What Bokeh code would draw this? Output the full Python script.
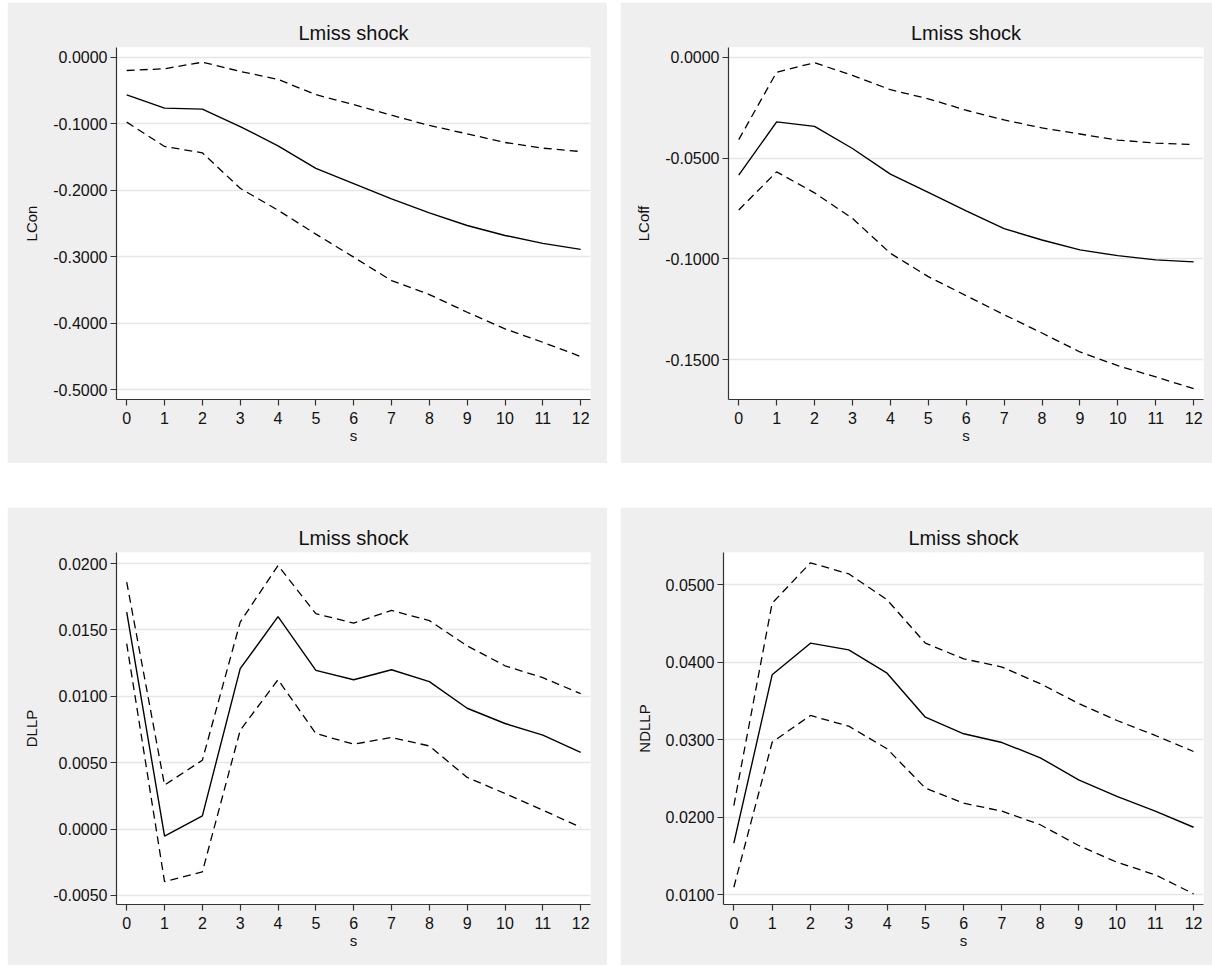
from bokeh.plotting import figure
from bokeh.layouts import row, column
from bokeh.models import FixedTicker, NumeralTickFormatter, Range1d
from bokeh.embed import file_html
from bokeh.resources import INLINE

# ---------------- data ----------------
steps = list(range(13))
x_ticks = list(range(13))

lcon_irf = [-0.0562, -0.0763, -0.0778, -0.104, -0.133, -0.167, -0.190, -0.213, -0.234, -0.253, -0.268, -0.280, -0.289]
lcon_hi = [-0.0196, -0.0170, -0.0071, -0.021, -0.033, -0.056, -0.071, -0.087, -0.1024, -0.115, -0.128, -0.1366, -0.1416]
lcon_lo = [-0.0974, -0.134, -0.1436, -0.197, -0.230, -0.266, -0.3007, -0.336, -0.357, -0.3836, -0.4087, -0.4288, -0.4503]
lcon_ticks = [-0.5, -0.4, -0.3, -0.2, -0.1, 0.0]

lcoff_irf = [-0.0584, -0.0320, -0.0342, -0.0452, -0.0579, -0.0670, -0.0761, -0.0850, -0.0906, -0.0955, -0.0984, -0.1005, -0.1015]
lcoff_hi = [-0.0408, -0.0073, -0.0026, -0.0089, -0.0160, -0.0205, -0.0262, -0.0310, -0.0350, -0.0380, -0.0410, -0.0425, -0.0432]
lcoff_lo = [-0.0757, -0.0568, -0.0672, -0.0799, -0.0972, -0.1088, -0.1183, -0.1277, -0.1368, -0.1462, -0.1530, -0.1586, -0.1644]
lcoff_ticks = [-0.15, -0.10, -0.05, 0.0]

dllp_irf = [0.01634, -0.00053, 0.00100, 0.01208, 0.01600, 0.01195, 0.01125, 0.01200, 0.01110, 0.00910, 0.00795, 0.00707, 0.00577]
dllp_hi = [0.01860, 0.00331, 0.00519, 0.01559, 0.01985, 0.01622, 0.01551, 0.01647, 0.01570, 0.01380, 0.01230, 0.01140, 0.01020]
dllp_lo = [0.01396, -0.00396, -0.00322, 0.00744, 0.01125, 0.00720, 0.00639, 0.00690, 0.00626, 0.00389, 0.00268, 0.00143, 0.00013]
dllp_ticks = [-0.005, 0.0, 0.005, 0.010, 0.015, 0.020]

ndllp_irf = [0.01662, 0.03835, 0.04243, 0.04157, 0.03856, 0.03288, 0.03074, 0.02961, 0.02764, 0.02480, 0.02265, 0.02075, 0.01868]
ndllp_hi = [0.02148, 0.04759, 0.05280, 0.05138, 0.04803, 0.04243, 0.04041, 0.03935, 0.03720, 0.03465, 0.03245, 0.03052, 0.02845]
ndllp_lo = [0.01094, 0.02965, 0.03310, 0.03172, 0.02880, 0.02372, 0.02178, 0.02075, 0.01900, 0.01632, 0.01417, 0.01254, 0.01009]
ndllp_ticks = [0.01, 0.02, 0.03, 0.04, 0.05]

title_text = "Lmiss shock"
x_label = "s"

FONT = "Liberation Sans"
GRAY = "#efefef"


def make(ylab, yr, yticks, irf, hi, lo, width, height, left, right, top, bottom):
    p = figure(width=width, height=height, output_backend="svg", toolbar_location=None,
               x_range=Range1d(-0.27, 12.26), y_range=Range1d(*yr),
               min_border_left=left, min_border_right=right,
               min_border_top=top, min_border_bottom=bottom,
               title=title_text)
    p.border_fill_color = GRAY
    p.background_fill_color = "white"
    p.outline_line_color = None

    t = p.title
    t.text_font = FONT
    t.text_font_size = "20px"
    t.text_font_style = "normal"
    t.text_color = "#111111"
    t.align = "center"
    t.offset = -5
    t.standoff = 7

    p.xgrid.visible = False
    p.ygrid.grid_line_color = "#e6e6e6"
    p.ygrid.grid_line_width = 1.3

    for ax in (p.xaxis[0], p.yaxis[0]):
        ax.axis_line_color = "#333333"
        ax.axis_line_width = 1.2
        ax.major_tick_line_color = "#333333"
        ax.major_tick_line_width = 1.2
        ax.major_tick_in = 0
        ax.major_tick_out = 6
        ax.minor_tick_line_color = None
        ax.major_label_text_font = FONT
        ax.major_label_text_font_size = "16px"
        ax.major_label_text_color = "#111111"
        ax.axis_label_text_font = FONT
        ax.axis_label_text_font_size = "15px"
        ax.axis_label_text_font_style = "normal"
        ax.axis_label_text_color = "#111111"

    p.xaxis.ticker = FixedTicker(ticks=x_ticks)
    p.xaxis.major_label_standoff = 6
    p.xaxis.axis_label = x_label
    p.xaxis.axis_label_standoff = 0

    p.yaxis.ticker = FixedTicker(ticks=yticks)
    p.yaxis.formatter = NumeralTickFormatter(format="0.0000")
    p.yaxis.major_label_orientation = "horizontal"
    p.yaxis.major_label_standoff = 3
    p.yaxis.axis_label = ylab
    p.yaxis.axis_label_standoff = 10

    p.line(steps, hi, line_color="black", line_width=1.3, line_dash="8 5")
    p.line(steps, lo, line_color="black", line_width=1.3, line_dash="8 5")
    p.line(steps, irf, line_color="black", line_width=1.4)
    return p


p1 = make("LCon", (-0.515, 0.015), lcon_ticks, lcon_irf, lcon_hi, lcon_lo,
          600, 461, 109, 17, 45, 64)
p2 = make("LCoff", (-0.1698, 0.00495), lcoff_ticks, lcoff_irf, lcoff_hi, lcoff_lo,
          592, 461, 108, 9, 45, 64)
p3 = make("DLLP", (-0.00568, 0.02083), dllp_ticks, dllp_irf, dllp_hi, dllp_lo,
          600, 458, 109, 17, 45, 61)
p4 = make("NDLLP", (0.00871, 0.05413), ndllp_ticks, ndllp_irf, ndllp_hi, ndllp_lo,
          592, 458, 103, 9, 45, 61)

layout = column(row(p1, p2, spacing=13), row(p3, p4, spacing=13), spacing=44,
                margin=(2, 0, 0, 7))

open("out.html", "w").write(file_html(layout, INLINE))
